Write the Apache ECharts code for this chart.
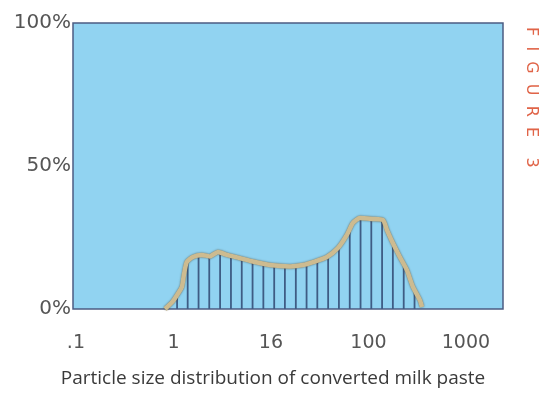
<!DOCTYPE html>
<html>
<head>
<meta charset="utf-8">
<script src="https://cdn.jsdelivr.net/npm/echarts@6/dist/echarts.min.js"></script>
<style>
  html, body { margin: 0; padding: 0; background: #ffffff; }
  #main { width: 546px; height: 393px; }
</style>
</head>
<body>
<div id="main"></div>
<script>
// 刻度 (粒径, 微米) 和显示的标签
const sizeTicks = [0.1, 1, 10, 100, 1000];
const tickLabels = ['.1', '1', '16', '100', '1000'];

// 曲线轮廓
const outlineSizes = [0.82, 0.97, 1.09, 1.22, 1.28, 1.37, 1.58, 1.96, 2.36, 2.86, 3.54, 4.81, 6.53, 9.77, 15.7, 21.3, 27.0, 37.5, 48.6, 60.1, 69.3, 81.8, 109, 141, 155, 178, 210, 248, 286, 337, 354];
const outlinePct = [0, 2.4, 4.9, 7.7, 11.9, 16.4, 18.2, 18.9, 18.4, 19.9, 18.9, 17.8, 16.6, 15.4, 14.9, 15.4, 16.4, 18.2, 21.3, 25.9, 30.1, 31.8, 31.5, 31.1, 27.6, 23.1, 18.2, 13.6, 7.7, 3.1, 0.7];

// 竖线 (每个粒径档)
const hatchSizes = [1.09, 1.40, 1.81, 2.33, 3.01, 3.89, 5.02, 6.48, 8.36, 10.8, 13.9, 18.0, 23.2, 29.9, 38.6, 49.8, 64.3, 83.0, 107, 138, 178, 230, 297];
const hatchPct = [4.9, 16.4, 18.7, 18.4, 19.6, 18.5, 17.7, 16.6, 15.9, 15.2, 14.9, 15.0, 15.4, 16.8, 18.5, 21.5, 28.0, 31.8, 31.5, 31.1, 23.1, 16.1, 6.6];

const chart = echarts.init(document.getElementById('main'));

const toLog = v => Math.log10(v);

const option = {
  animation: false,
  title: {
    text: 'Particle size distribution of converted milk paste',
    left: 'center',
    top: 364,
    textStyle: { fontFamily: 'Open Sans', fontSize: 19, fontWeight: 'normal', color: '#3a3a3a' }
  },
  grid: {
    left: 73, right: 43, top: 23, bottom: 84,
    show: true,
    backgroundColor: '#91d3f1',
    borderColor: '#4c5c82',
    borderWidth: 1.5
  },
  xAxis: {
    type: 'value',
    min: -1.03,
    max: 3.38,
    axisLine: { show: false },
    axisTick: { show: false },
    splitLine: { show: false },
    axisLabel: {
      customValues: sizeTicks.map(toLog),
      margin: 25,
      fontFamily: 'DejaVu Sans',
      fontSize: 19,
      color: '#555',
      formatter: function (v) {
        for (let i = 0; i < sizeTicks.length; i++) {
          if (Math.abs(toLog(sizeTicks[i]) - v) < 1e-6) return tickLabels[i];
        }
        return '';
      }
    }
  },
  yAxis: {
    type: 'value',
    min: 0,
    max: 100,
    interval: 50,
    axisLine: { show: false },
    axisTick: { show: false },
    splitLine: { show: false },
    axisLabel: {
      margin: 2,
      fontFamily: 'DejaVu Sans',
      fontSize: 20,
      color: '#555',
      padding: [0, 0, 10, 0],
      formatter: '{value}%'
    }
  },
  graphic: [{
    type: 'text',
    x: 531,
    y: 27,
    rotation: -Math.PI / 2,
    style: {
      text: 'F  I  G  U  R  E    3',
      fontFamily: 'DejaVu Sans',
      fontSize: 16,
      fill: '#e06448',
      textAlign: 'left',
      textVerticalAlign: 'middle'
    }
  }],
  series: [
    {
      name: 'hatch',
      type: 'bar',
      barWidth: 1.8,
      itemStyle: { color: '#3e5c84' },
      data: hatchSizes.map((s, i) => [toLog(s), hatchPct[i]]),
      z: 2
    },
    {
      name: 'outline',
      type: 'line',
      smooth: 0.2,
      symbol: 'none',
      lineStyle: {
        color: '#cdbb90',
        width: 4.5,
        shadowColor: 'rgba(70,55,30,0.7)',
        shadowBlur: 2
      },
      data: outlineSizes.map((s, i) => [toLog(s), outlinePct[i]]),
      z: 3
    }
  ]
};

chart.setOption(option);
</script>
</body>
</html>
